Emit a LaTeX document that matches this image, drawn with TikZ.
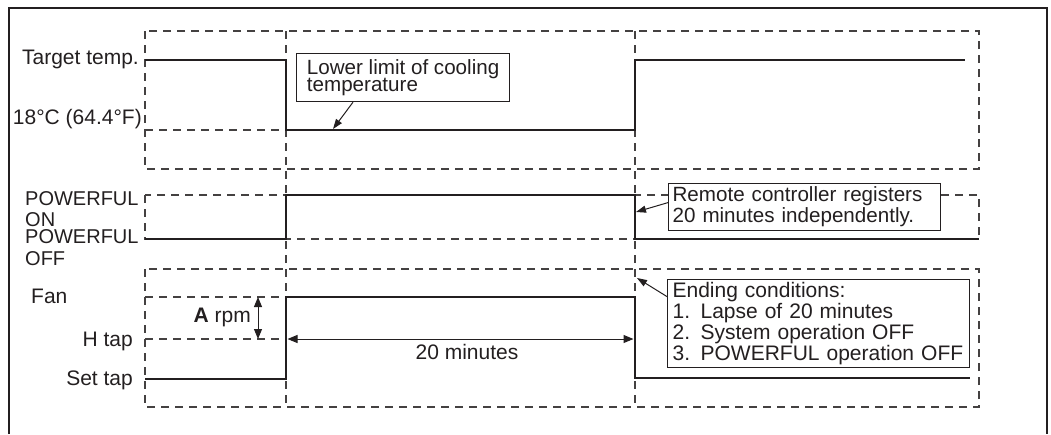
\documentclass[tikz,border=0pt]{standalone}
\usepackage{fontspec}
\setmainfont{Liberation Sans}
\usetikzlibrary{arrows.meta,calc}
\definecolor{ink}{HTML}{231F20}
\setlength{\lineskiplimit}{-100pt}
\begin{document}
\begin{tikzpicture}[x=1pt,y=-1pt,
  frame/.style={line width=1.2pt, draw=ink},
  dashbox/.style={line width=1.2pt, draw=ink!85, dash pattern=on 8pt off 6pt},
  signal/.style={line width=2.8pt, draw=ink, line join=miter},
  callout/.style={draw=ink, line width=1.2pt, fill=white, align=left, anchor=north west,
    text=ink, font=\fontsize{21}{21}\selectfont},
  lbl/.style={inner sep=0pt, text=ink, font=\fontsize{21}{21}\selectfont},
  pointer/.style={line width=1pt, draw=ink, -{Triangle[length=10pt,width=7pt]}},
  dimarrow/.style={line width=1pt, draw=ink, {Triangle[length=10pt,width=8pt]}-{Triangle[length=10pt,width=8pt]}},
]
\useasboundingbox (0,0) rectangle (1051,434);

% outer frame (open at bottom)
\draw[frame] (9,434) -- (9,8) -- (1047,8) -- (1047,434);

% dashed guide boxes
\draw[dashbox] (145,31) rectangle (979,169);
\draw[dashbox] (145,130) -- (286,130);
\draw[dashbox] (145,195) rectangle (979,239);
\draw[dashbox] (145,269) rectangle (979,407);
\draw[dashbox] (145,297) -- (286,297);
\draw[dashbox] (145,339) -- (286,339);
\draw[dashbox] (286,31) -- (286,407);
\draw[dashbox] (635,31) -- (635,407);

% signal traces
\draw[signal] (145,60) -- (286,60) -- (286,130) -- (635,130) -- (635,60) -- (965,60);
\draw[signal] (145,239) -- (286,239) -- (286,195) -- (635,195) -- (635,239) -- (979,239);
\draw[signal] (145,379) -- (286,379) -- (286,297) -- (635,297) -- (635,378) -- (970,378);

% left labels
\node[lbl, anchor=base east] (tt) at (139,64) {Target temp.};
\node[lbl, anchor=base east] (t18) at (142,124) {18°C (64.4°F)};
\node[lbl, anchor=base west, align=left, font=\fontsize{20}{21}\selectfont] (pon) at (25,226) {POWERFUL\\ON};
\node[lbl, anchor=base west, align=left, font=\fontsize{20}{22}\selectfont] (poff) at (25,265) {POWERFUL\\OFF};
\node[lbl, anchor=base west] (fan) at (31,303) {Fan};
\node[lbl, anchor=base east] (htap) at (133,346) {H tap};
\node[lbl, anchor=base east] (settap) at (133,385) {Set tap};

% dimension arrows
\coordinate (a1) at (258,297);
\coordinate (a2) at (258,339);
\draw[dimarrow] (a1) -- (a2);
\node[lbl, anchor=base east] (arpm) at (251,322) {\textbf{A} rpm};
\coordinate (d1) at (287.5,339);
\coordinate (d2) at (633.5,339);
\draw[dimarrow] (d1) -- (d2);
\node[lbl, anchor=base] (twenty) at (467,359) {20 minutes};

% callouts
\node[callout, inner xsep=0pt, inner ysep=0pt, minimum width=213pt, minimum height=48pt,
  font=\fontsize{20.6}{17}\selectfont] (lowbox) at (296,53)
  {Lower limit of cooling\\temperature};
\node[callout, inner xsep=4pt, inner ysep=0pt, text width=264pt, minimum height=47pt] (remote) at (668,183)
  {\fontsize{20.6}{23.3}\selectfont Remote controller registers\\20 minutes independently.};
\node[callout, inner xsep=5pt, inner ysep=0pt, text width=292pt, minimum height=88pt] (ending) at (667,279)
  {\fontsize{21}{21.1}\selectfont Ending conditions:\\1. Lapse of 20 minutes\\2. System operation OFF\\3. POWERFUL operation OFF};

\coordinate (lowtip) at (333,129);
\coordinate (remtip) at (636,212);
\coordinate (endtip) at (637,278);
\draw[pointer] ($(lowbox.south west)+(57,0)$) -- (lowtip);
\draw[pointer] ($(remote.west)+(0,-4.5)$) -- (remtip);
\draw[pointer] ($(ending.west)+(0,-27)$) -- (endtip);
\end{tikzpicture}
\end{document}
